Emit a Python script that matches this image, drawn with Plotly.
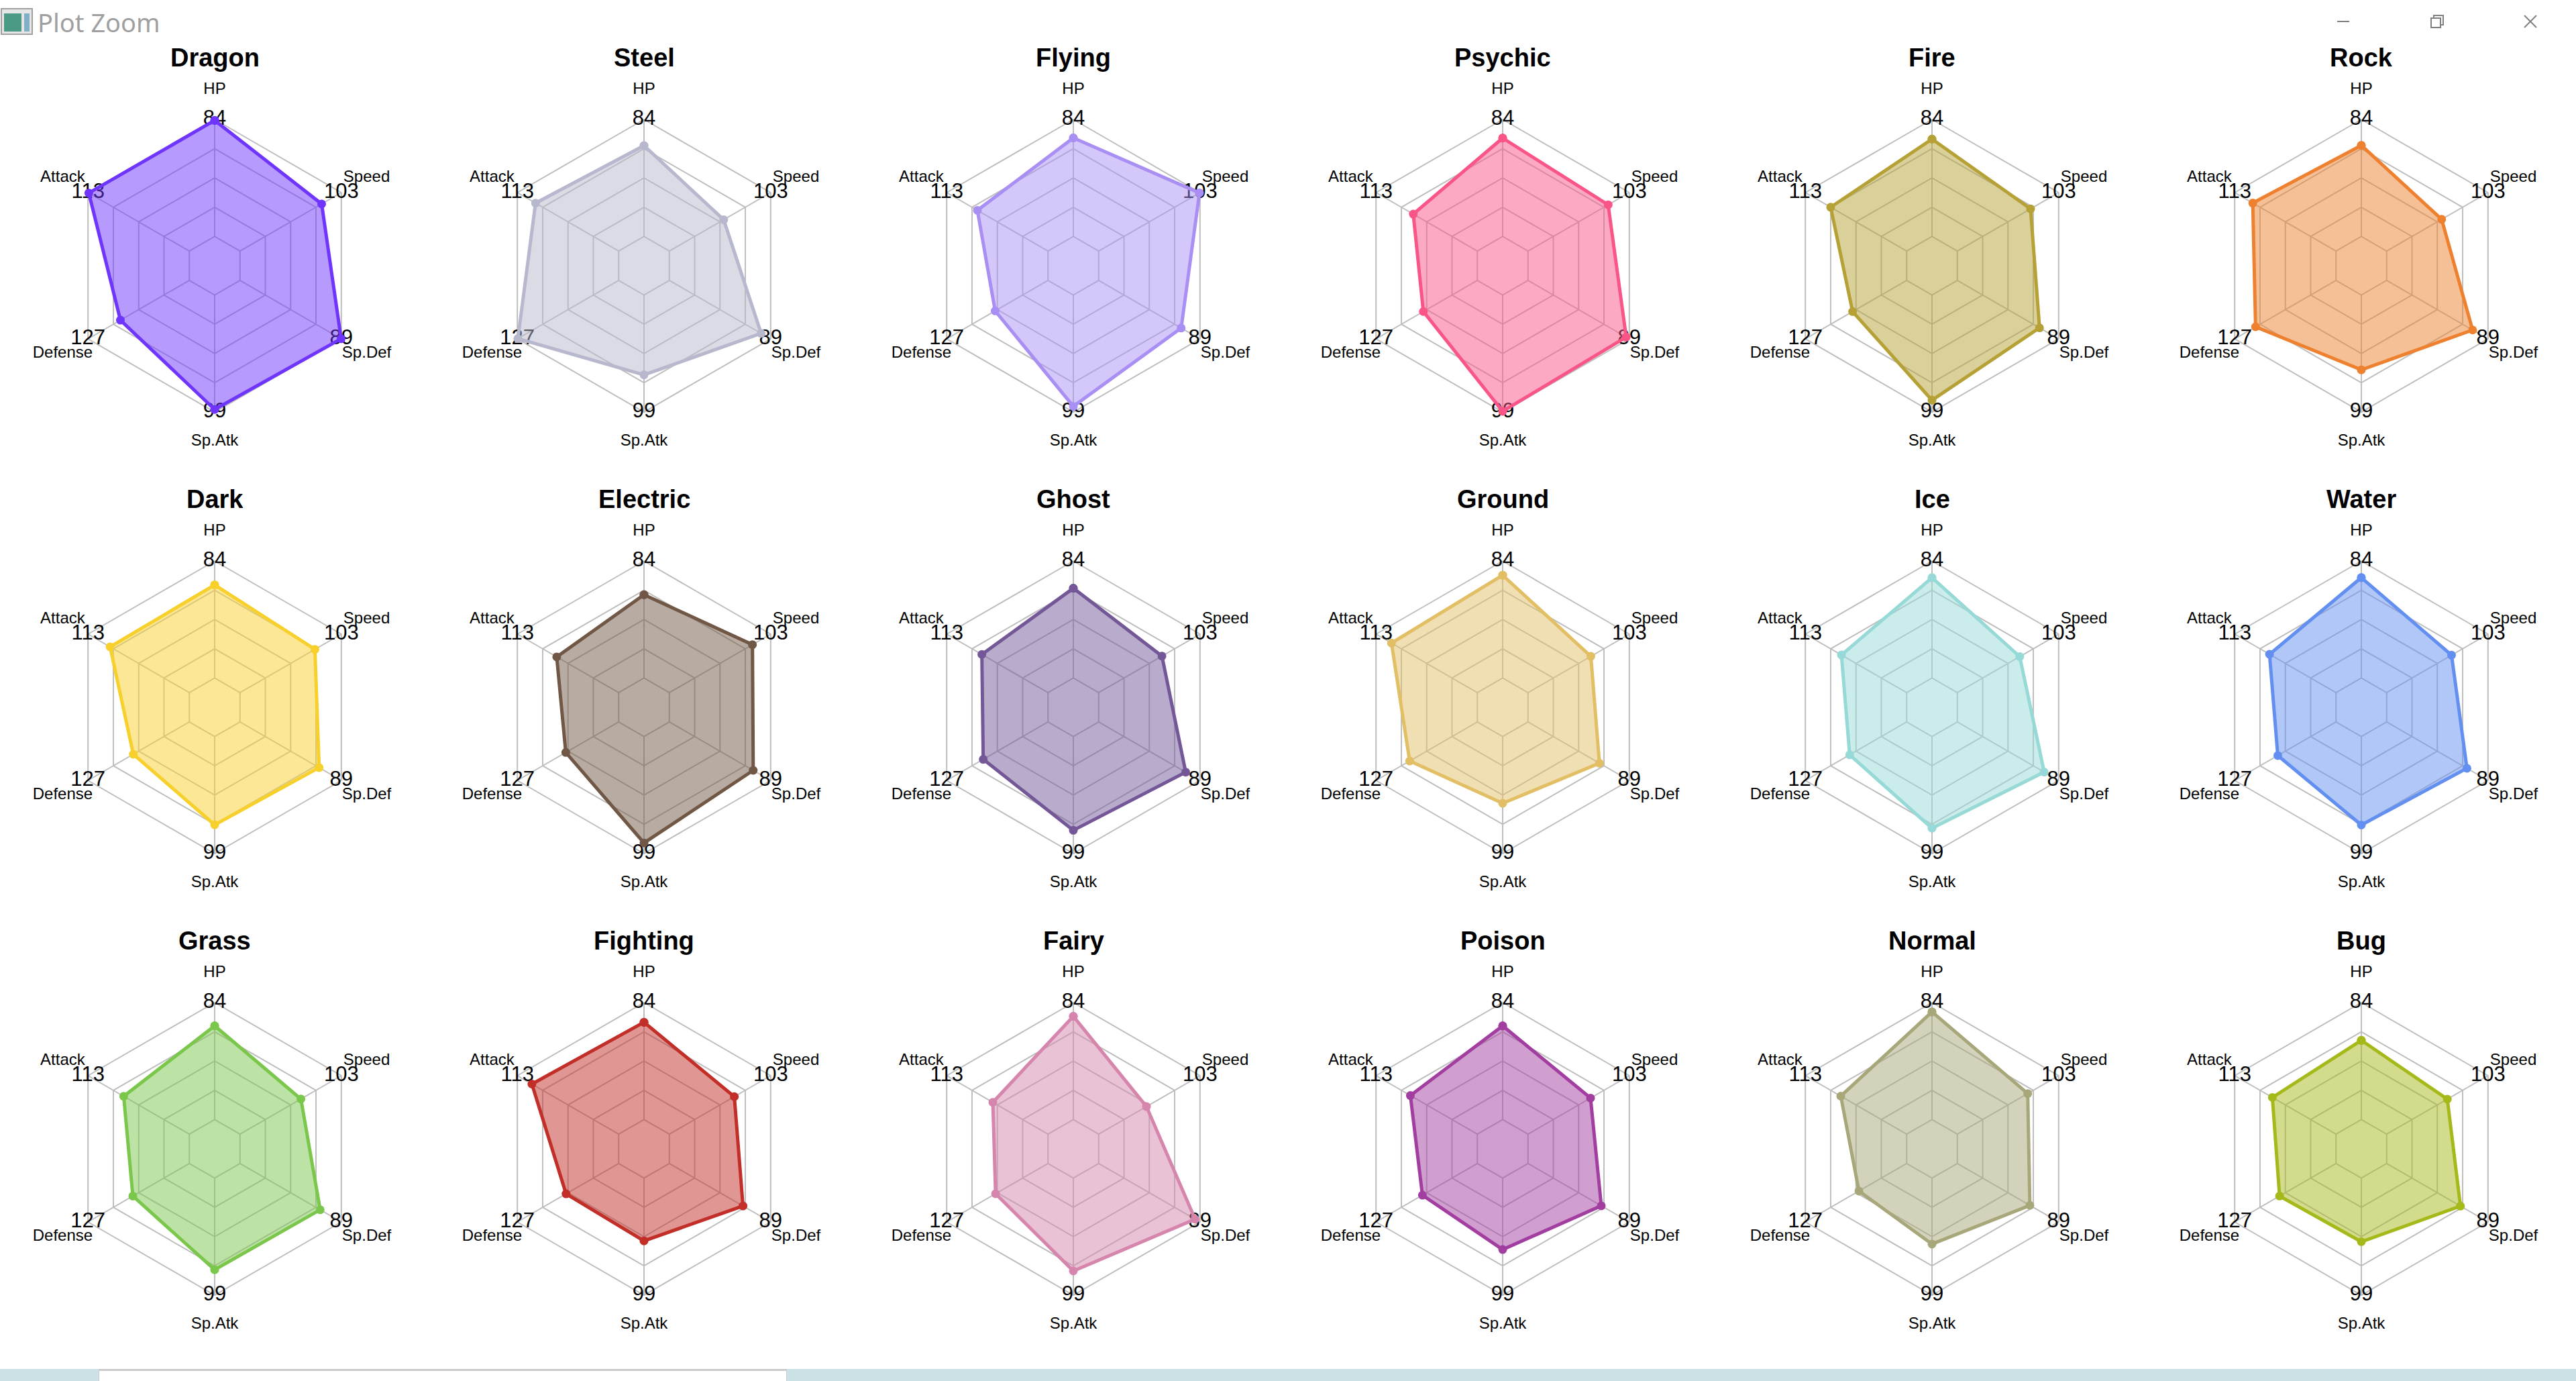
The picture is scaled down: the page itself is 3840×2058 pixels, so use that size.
import plotly.graph_objects as go

# ---------------- data ----------------
types = ["Dragon", "Steel", "Flying", "Psychic", "Fire", "Rock",
         "Dark", "Electric", "Ghost", "Ground", "Ice", "Water",
         "Grass", "Fighting", "Fairy", "Poison", "Normal", "Bug"]
stats = ["HP", "Attack", "Defense", "Sp.Atk", "Sp.Def", "Speed"]
axis_max = [84, 113, 127, 99, 89, 103]
axis_min = [0, 0, 0, 0, 0, 0]

hp = [83.31, 65.22, 70.75, 70.63, 69.90, 65.36, 66.81, 59.80, 64.44,
      73.78, 72.00, 72.06, 67.27, 69.85, 74.12, 67.25, 77.28, 56.88]
attack = [112.13, 92.70, 78.75, 71.46, 84.77, 92.86, 88.39, 69.09, 73.78,
          95.75, 72.75, 74.15, 73.21, 96.78, 61.53, 74.68, 73.47, 70.97]
defense = [86.38, 126.37, 66.25, 67.68, 67.77, 100.80, 70.23, 66.30, 81.19,
           84.84, 71.42, 72.95, 70.80, 65.93, 65.71, 68.82, 59.85, 70.72]
sp_atk = [96.84, 67.52, 94.25, 98.40, 88.98, 63.34, 74.65, 90.02, 79.34,
          56.47, 77.54, 74.81, 77.50, 53.11, 78.53, 60.43, 55.82, 53.87]
sp_def = [88.84, 80.63, 72.50, 86.28, 72.21, 75.48, 69.52, 73.70, 76.47,
          62.75, 76.29, 70.52, 70.43, 64.70, 84.71, 64.39, 63.72, 64.80]
speed = [83.03, 55.26, 102.50, 81.49, 74.44, 55.91, 76.16, 84.50, 64.34,
         63.91, 63.46, 65.96, 61.93, 66.07, 48.59, 63.57, 71.55, 61.68]

colors = ["#6F35FC", "#B7B7CE", "#A98FF3", "#F95587", "#B6A136", "#EE8130",
          "#F7D02C", "#705746", "#735797", "#E2BF65", "#96D9D6", "#6390F0",
          "#7AC74C", "#C22E28", "#D685AD", "#A33EA1", "#A8A77A", "#A6B91A"]

# ---------------- layout constants ----------------
W, H = 3840, 2058
NCOL = 6
COL_W = 640
ROW_CY = [396, 1054, 1712]
R1 = 218.0           # pixel radius of the outer ring (value = max)
RMAX = 1.2           # radial range max (labels sit here)
HALF = R1 * RMAX     # half-size of polar domain in px
SEG = 4              # fmsb segments
CGAP = 1
FONT = "Liberation Sans, Arial, sans-serif"


def rgba(hexc, a):
    h = hexc.lstrip("#")
    return "rgba(%d,%d,%d,%.2f)" % (int(h[0:2], 16), int(h[2:4], 16), int(h[4:6], 16), a)


def scale(v, lo, hi):
    # fmsb radarchart radial mapping (centerzero = FALSE)
    return (CGAP + SEG * (v - lo) / (hi - lo)) / (SEG + CGAP)


fig = go.Figure()
layout = dict(
    width=W, height=H, margin=dict(l=0, r=0, t=0, b=0),
    paper_bgcolor="white", plot_bgcolor="white", showlegend=False,
    annotations=[], shapes=[],
)

inner = CGAP / (SEG + CGAP)
ring_vals = [(CGAP + i) / (SEG + CGAP) for i in range(SEG + 1)]

for k, t in enumerate(types):
    row, col = divmod(k, NCOL)
    cx = COL_W / 2 + COL_W * col
    cy = ROW_CY[row]
    pid = "polar" if k == 0 else "polar%d" % (k + 1)
    sub = pid

    layout[pid] = dict(
        domain=dict(x=[(cx - HALF) / W, (cx + HALF) / W],
                    y=[1 - (cy + HALF) / H, 1 - (cy - HALF) / H]),
        bgcolor="white",
        gridshape="linear",
        radialaxis=dict(range=[0, RMAX], tickvals=ring_vals, showticklabels=False,
                        ticks="", showline=False, gridcolor="#BEBEBE", gridwidth=2),
        angularaxis=dict(type="category", categoryarray=stats, rotation=90,
                         direction="counterclockwise", showgrid=False, showline=False,
                         showticklabels=False, ticks=""),
    )

    # spokes from inner ring to outer ring
    sr, st = [], []
    for s in stats:
        sr += [inner, 1.0, None]
        st += [s, s, s]
    fig.add_trace(go.Scatterpolar(r=sr, theta=st, mode="lines", subplot=sub,
                                  line=dict(color="#BEBEBE", width=2),
                                  hoverinfo="skip", connectgaps=False))

    # max value labels at the vertices
    fig.add_trace(go.Scatterpolar(r=[1.0] * len(stats), theta=stats, mode="text",
                                  text=[str(m) for m in axis_max], subplot=sub,
                                  textposition="middle center", cliponaxis=False,
                                  textfont=dict(family=FONT, size=31, color="black"),
                                  hoverinfo="skip"))

    vals = [hp[k], attack[k], defense[k], sp_atk[k], sp_def[k], speed[k]]
    rr = [scale(v, lo, hi) for v, lo, hi in zip(vals, axis_min, axis_max)]
    fig.add_trace(go.Scatterpolar(r=rr + rr[:1], theta=stats + stats[:1], subplot=sub,
                                  mode="lines+markers", fill="toself",
                                  fillcolor=rgba(colors[k], 0.5),
                                  line=dict(color=colors[k], width=5),
                                  marker=dict(color=colors[k], size=13),
                                  cliponaxis=False, name=t))

    # axis names
    fig.add_trace(go.Scatterpolar(r=[RMAX] * len(stats), theta=stats, mode="text",
                                  text=stats, subplot=sub,
                                  textposition="middle center", cliponaxis=False,
                                  textfont=dict(family=FONT, size=24, color="black"),
                                  hoverinfo="skip"))

    layout["annotations"].append(dict(
        x=cx / W, y=1 - (cy - 310) / H, xref="paper", yref="paper",
        text="<b>%s</b>" % t, showarrow=False, xanchor="center", yanchor="middle",
        font=dict(family=FONT, size=38, color="black")))

# ---------------- window chrome ----------------
def px(x):
    return x / W


def py(y):
    return 1 - y / H


shp = layout["shapes"]
# title-bar icon
shp.append(dict(type="rect", xref="paper", yref="paper", x0=px(2), x1=px(48), y0=py(51), y1=py(13),
                fillcolor="#E6E6E6", line=dict(color="#A0A0A0", width=2)))
shp.append(dict(type="rect", xref="paper", yref="paper", x0=px(6), x1=px(32), y0=py(47), y1=py(20),
                fillcolor="#4A9A86", line=dict(width=0)))
shp.append(dict(type="rect", xref="paper", yref="paper", x0=px(36), x1=px(44), y0=py(47), y1=py(20),
                fillcolor="#7FB0C8", line=dict(width=0)))
layout["annotations"].append(dict(x=px(54), y=py(33), xref="paper", yref="paper", text="Plot Zoom",
                                  showarrow=False, xanchor="left", yanchor="middle",
                                  font=dict(family="Noto Sans", size=38, color="#A0A0A0")))
# window buttons
shp.append(dict(type="line", xref="paper", yref="paper", x0=px(3484), x1=px(3502), y0=py(32), y1=py(32),
                line=dict(color="#808080", width=2)))
shp.append(dict(type="rect", xref="paper", yref="paper", x0=px(3624), x1=px(3638), y0=py(41), y1=py(27),
                line=dict(color="#808080", width=2)))
shp.append(dict(type="path", xref="paper", yref="paper",
                path="M %f %f L %f %f L %f %f" % (px(3628), py(27), px(3628), py(23), px(3642), py(23))
                + " L %f %f L %f %f" % (px(3642), py(37), px(3638), py(37)),
                line=dict(color="#808080", width=2)))
shp.append(dict(type="line", xref="paper", yref="paper", x0=px(3763), x1=px(3781), y0=py(23), y1=py(41),
                line=dict(color="#808080", width=2)))
shp.append(dict(type="line", xref="paper", yref="paper", x0=px(3763), x1=px(3781), y0=py(41), y1=py(23),
                line=dict(color="#808080", width=2)))
# bottom bar
shp.append(dict(type="rect", xref="paper", yref="paper", x0=0, x1=1, y0=0, y1=py(2040),
                fillcolor="#CCE1E6", line=dict(width=0)))
shp.append(dict(type="rect", xref="paper", yref="paper", x0=px(147), x1=px(1173), y0=0, y1=py(2040),
                fillcolor="#CBCBCB", line=dict(width=0)))
shp.append(dict(type="rect", xref="paper", yref="paper", x0=px(148), x1=px(1172), y0=0, y1=py(2043),
                fillcolor="white", line=dict(width=0)))

fig.update_layout(**layout)
fig.write_html("out.html")
